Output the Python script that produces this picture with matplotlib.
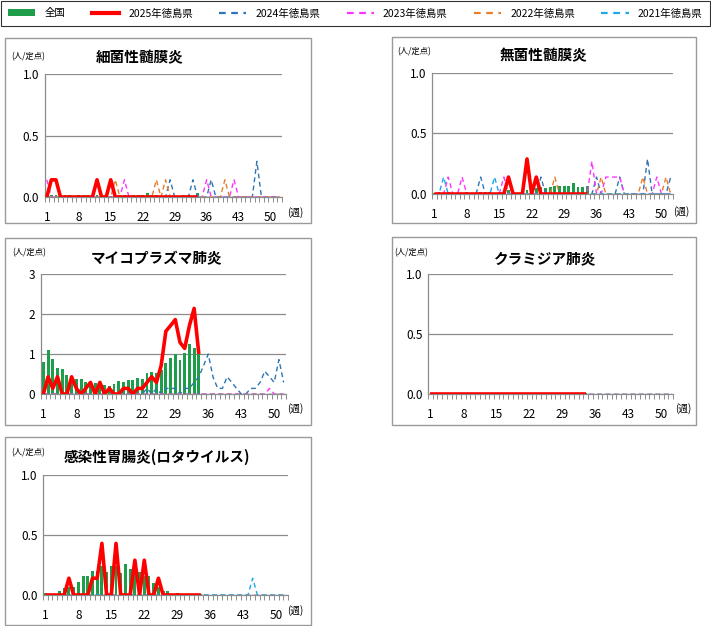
import matplotlib
matplotlib.use('Agg')
import matplotlib.pyplot as plt
from matplotlib.patches import Rectangle, Patch
from matplotlib.lines import Line2D
import numpy as np

plt.rcParams['font.family'] = ['Noto Sans CJK JP', 'DejaVu Sans']

# ---------------- data ----------------
weeks = list(range(1, 53))
weeks_2025 = list(range(1, 35))
week_tick_labels = [1, 8, 15, 22, 29, 36, 43, 50]
series_names = ['全国', '2025年徳島県', '2024年徳島県', '2023年徳島県', '2022年徳島県', '2021年徳島県']
panel_titles = ['細菌性髄膜炎', '無菌性髄膜炎', 'マイコプラズマ肺炎', 'クラミジア肺炎', '感染性胃腸炎(ロタウイルス)']
unit_label = '(人/定点)'
week_label = '(週)'

# 細菌性髄膜炎
bac_national = [0.01, 0.02, 0.02, 0.01, 0.02, 0.02, 0.01, 0.02, 0.02, 0.02, 0.01, 0.02, 0.01, 0.01, 0.01, 0.01, 0.02,
                0.02, 0.02, 0.02, 0.02, 0.02, 0.03, 0.02, 0.02, 0.01, 0.01, 0.01, 0.01, 0.01, 0.02, 0.02, 0.01, 0.03]
bac_2025 = [0, 0.14, 0.14, 0, 0, 0, 0, 0, 0, 0, 0, 0.14, 0, 0, 0.14, 0, 0,
            0, 0, 0, 0, 0, 0, 0, 0, 0, 0, 0, 0, 0, 0, 0, 0, 0]
bac_2024 = [0, 0, 0, 0, 0, 0, 0, 0, 0, 0, 0, 0, 0,
            0, 0, 0, 0, 0, 0, 0, 0, 0, 0, 0, 0, 0,
            0, 0.14, 0, 0, 0, 0, 0.14, 0, 0, 0, 0.14, 0, 0,
            0, 0, 0, 0, 0, 0, 0, 0.29, 0, 0, 0, 0, 0]
bac_2023 = [0.14, 0, 0, 0, 0, 0, 0, 0, 0, 0, 0, 0, 0,
            0, 0, 0, 0, 0.14, 0, 0, 0, 0, 0, 0, 0, 0,
            0, 0, 0, 0, 0, 0, 0, 0, 0, 0.14, 0, 0, 0,
            0, 0, 0.14, 0, 0, 0, 0, 0, 0, 0, 0, 0, 0]
bac_2022 = [0, 0, 0, 0, 0, 0, 0, 0, 0, 0, 0, 0, 0,
            0, 0, 0.14, 0, 0, 0, 0, 0, 0, 0, 0, 0.14, 0,
            0.14, 0, 0, 0, 0, 0, 0, 0, 0, 0, 0, 0, 0,
            0.14, 0, 0, 0, 0, 0, 0, 0, 0, 0, 0, 0, 0]
bac_2021 = [0] * 52

# 無菌性髄膜炎
ase_national = [0.01, 0.02, 0.01, 0.02, 0.01, 0.01, 0.01, 0.02, 0.01, 0.01, 0.02, 0.02, 0.02, 0.01, 0.02, 0.02, 0.03,
                0.02, 0.01, 0.02, 0.03, 0.04, 0.05, 0.06, 0.05, 0.06, 0.07, 0.07, 0.065, 0.07, 0.09, 0.055, 0.06, 0.07]
ase_2025 = [0, 0, 0, 0, 0, 0, 0, 0, 0, 0, 0, 0, 0, 0, 0, 0, 0.14,
            0, 0, 0, 0.29, 0, 0.14, 0, 0, 0, 0, 0, 0, 0, 0, 0, 0, 0]
ase_2024 = [0, 0, 0, 0, 0, 0, 0, 0, 0, 0, 0.14, 0, 0,
            0, 0, 0, 0, 0, 0, 0, 0, 0, 0, 0.14, 0, 0,
            0, 0, 0, 0, 0, 0, 0, 0, 0, 0.14, 0, 0, 0,
            0, 0.14, 0, 0, 0, 0, 0, 0.29, 0, 0, 0, 0, 0.14]
ase_2023 = [0, 0, 0, 0.14, 0, 0, 0.14, 0, 0, 0, 0, 0, 0,
            0, 0, 0.14, 0, 0, 0, 0, 0, 0, 0, 0, 0, 0,
            0, 0, 0, 0, 0, 0, 0, 0, 0.27, 0, 0, 0.14, 0.14,
            0.14, 0.14, 0, 0, 0, 0, 0, 0, 0, 0.14, 0, 0, 0]
ase_2022 = [0, 0, 0, 0, 0, 0, 0, 0, 0, 0, 0, 0, 0,
            0, 0, 0, 0, 0, 0, 0, 0, 0, 0, 0, 0, 0,
            0.14, 0, 0, 0, 0, 0, 0, 0, 0, 0, 0.14, 0, 0,
            0, 0, 0, 0, 0, 0, 0.14, 0, 0, 0, 0, 0.14, 0]
ase_2021 = [0, 0, 0.14, 0, 0, 0, 0, 0, 0, 0, 0, 0, 0,
            0.14, 0, 0, 0, 0, 0, 0, 0, 0, 0, 0, 0, 0,
            0, 0, 0, 0, 0, 0, 0, 0, 0, 0, 0, 0, 0,
            0, 0, 0, 0, 0, 0, 0, 0, 0, 0, 0, 0, 0]

# マイコプラズマ肺炎
myco_national = [0.81, 1.11, 0.87, 0.64, 0.62, 0.47, 0.45, 0.37, 0.37, 0.30, 0.28, 0.27, 0.29, 0.23, 0.21, 0.26, 0.33,
                 0.31, 0.34, 0.35, 0.39, 0.37, 0.52, 0.55, 0.53, 0.60, 0.77, 0.91, 1.00, 0.84, 1.02, 1.24, 1.16, 1.00]
myco_2025 = [0, 0.43, 0.14, 0.43, 0, 0, 0.43, 0.14, 0, 0.14, 0.29, 0, 0.29, 0, 0.14, 0, 0,
             0.14, 0.14, 0, 0.14, 0.14, 0.29, 0.43, 0.29, 0.71, 1.57, 1.71, 1.86, 1.29, 1.14, 1.71, 2.14, 1.0]
myco_2024 = [0, 0, 0, 0, 0, 0, 0, 0, 0, 0, 0, 0, 0,
             0, 0, 0, 0, 0, 0, 0, 0, 0, 0.14, 0, 0.14, 0,
             0.14, 0.14, 0.14, 0, 0.14, 0.14, 0.29, 0.43, 0.71, 1.0, 0.43, 0.14, 0.14,
             0.43, 0.29, 0.14, 0, 0, 0.14, 0.14, 0.29, 0.57, 0.43, 0.29, 0.86, 0.29]
myco_2023 = [0, 0, 0, 0, 0, 0, 0, 0, 0, 0, 0, 0, 0,
             0, 0, 0, 0, 0, 0, 0, 0, 0, 0, 0, 0, 0,
             0, 0, 0, 0, 0, 0, 0, 0, 0, 0, 0, 0, 0,
             0, 0, 0, 0, 0, 0, 0, 0, 0, 0.14, 0, 0, 0]
myco_2022 = [0] * 52
myco_2021 = [0] * 52

# クラミジア肺炎
chl_national = [0, 0, 0.01, 0, 0, 0, 0, 0.01, 0, 0, 0, 0.01, 0, 0, 0, 0.01, 0,
                0, 0, 0.01, 0.01, 0, 0, 0, 0, 0.01, 0.01, 0.01, 0.01, 0, 0, 0, 0, 0.01]
chl_2025 = [0] * 34
chl_2024 = [0] * 52
chl_2023 = [0] * 52
chl_2022 = [0] * 52
chl_2021 = [0] * 52

# 感染性胃腸炎(ロタウイルス)
rota_national = [0.015, 0.005, 0.01, 0.03, 0.06, 0.07, 0.07, 0.11, 0.155, 0.155, 0.2, 0.2, 0.24, 0.19, 0.245, 0.24, 0.18,
                 0.255, 0.22, 0.2, 0.19, 0.16, 0.155, 0.1, 0.07, 0.03, 0.03, 0.01, 0.015, 0.01, 0.01, 0.005, 0.005, 0.005]
rota_2025 = [0, 0, 0, 0, 0, 0.14, 0, 0, 0, 0, 0.14, 0.14, 0.43, 0, 0, 0.43, 0,
             0, 0, 0.29, 0, 0.29, 0, 0, 0.14, 0, 0, 0, 0, 0, 0, 0, 0, 0]
rota_2024 = [0] * 52
rota_2023 = [0] * 52
rota_2022 = [0] * 52
rota_2021 = [0, 0, 0, 0, 0, 0, 0, 0, 0, 0, 0, 0, 0,
             0, 0, 0, 0, 0, 0, 0, 0, 0, 0, 0, 0, 0,
             0, 0, 0, 0, 0, 0, 0, 0, 0, 0, 0, 0, 0,
             0, 0, 0, 0, 0, 0.14, 0, 0, 0, 0, 0, 0, 0]

# ---------------- style ----------------
C_NAT = '#1E9E4A'
C_2025 = '#FF0000'
C_2024 = '#2F75B5'
C_2023 = '#FF33FF'
C_2022 = '#E87D2A'
C_2021 = '#1CA9E6'
GRID = '#8C8C8C'

W, H = 711, 626
fig = plt.figure(figsize=(W / 100, H / 100), dpi=100)
fig.patch.set_facecolor('white')


def fx(x):
    return x / W


def fy(y):
    return 1 - y / H


def add_axes_px(left, right, top, bottom):
    return fig.add_axes([fx(left), fy(bottom), fx(right - left), (bottom - top) / H])


panels = [
    dict(frame=(5, 38, 311, 223), ax=(44.5, 282, 74, 197), title=(140, 57), unit=(11, 57), wk=(287, 213),
         ymax=1.0, yt=[0, 0.5, 1.0], yl=['0.0', '0.5', '1.0'],
         nat=bac_national, y25=bac_2025, others=[bac_2024, bac_2023, bac_2022, bac_2021]),
    dict(frame=(392, 37, 696, 223), ax=(432, 673, 73, 194), title=(543, 55), unit=(397, 52), wk=(673, 212),
         ymax=1.0, yt=[0, 0.5, 1.0], yl=['0.0', '0.5', '1.0'],
         nat=ase_national, y25=ase_2025, others=[ase_2024, ase_2023, ase_2022, ase_2021]),
    dict(frame=(5, 238, 311, 425), ax=(41, 286, 274, 394), title=(157, 258), unit=(12, 253), wk=(287, 409),
         ymax=3.0, yt=[0, 1, 2, 3], yl=['0', '1', '2', '3'],
         nat=myco_national, y25=myco_2025, others=[myco_2024, myco_2023, myco_2022, myco_2021]),
    dict(frame=(392, 237, 696, 425), ax=(428, 673, 274, 394), title=(545, 258), unit=(394, 253), wk=(675, 409),
         ymax=1.0, yt=[0, 0.5, 1.0], yl=['0.0', '0.5', '1.0'],
         nat=chl_national, y25=chl_2025, others=[chl_2024, chl_2023, chl_2022, chl_2021]),
    dict(frame=(5, 437, 311, 625), ax=(43, 288, 475, 595), title=(157, 457), unit=(11, 453), wk=(287, 611),
         ymax=1.0, yt=[0, 0.5, 1.0], yl=['0.0', '0.5', '1.0'],
         nat=rota_national, y25=rota_2025, others=[rota_2024, rota_2023, rota_2022, rota_2021]),
]

other_colors = [C_2024, C_2023, C_2022, C_2021]

for p, title in zip(panels, panel_titles):
    x0, y0, x1, y1 = p['frame']
    fig.patches.append(Rectangle((fx(x0), fy(y1)), fx(x1 - x0), (y1 - y0) / H, transform=fig.transFigure,
                                 fill=False, edgecolor='#9A9A9A', linewidth=1.0, zorder=0))
    ax = add_axes_px(*p['ax'])
    ax.set_facecolor('none')
    ax.bar(weeks_2025, p['nat'], width=0.62, color=C_NAT, zorder=1.2, linewidth=0)
    for vals, c in zip(p['others'], other_colors):
        ax.plot(weeks, vals, color=c, linewidth=1.0, dashes=(3.5, 2.5), zorder=1.5)
    ax.plot(weeks_2025, p['y25'], color=C_2025, linewidth=2.6, zorder=3,
            solid_joinstyle='round', solid_capstyle='butt')
    ax.set_xlim(0.5, 52.5)
    ax.set_ylim(0, p['ymax'])
    ax.set_yticks(p['yt'])
    ax.set_yticklabels(p['yl'])
    ax.yaxis.grid(True, color=GRID, linewidth=0.9)
    ax.set_axisbelow(True)
    for s in ['top', 'right']:
        ax.spines[s].set_visible(False)
    for s in ['left', 'bottom']:
        ax.spines[s].set_color(GRID)
        ax.spines[s].set_linewidth(0.9)
    ax.set_xticks(week_tick_labels)
    ax.set_xticklabels([str(v) for v in week_tick_labels])
    ax.set_xticks(np.arange(0.5, 53, 1), minor=True)
    ax.tick_params(axis='x', which='major', length=0, pad=10, labelsize=8.5)
    ax.tick_params(axis='x', which='minor', length=3.5, width=0.7, color=GRID, direction='out')
    ax.tick_params(axis='y', length=0, pad=4, labelsize=8.5)
    fig.text(fx(p['title'][0]), fy(p['title'][1]), title, ha='center', va='center',
             fontsize=10.5, fontweight='bold')
    fig.text(fx(p['unit'][0]), fy(p['unit'][1]), unit_label, ha='left', va='center', fontsize=6)
    fig.text(fx(p['wk'][0]), fy(p['wk'][1]), week_label, ha='left', va='center', fontsize=7)

handles = [Patch(facecolor=C_NAT, edgecolor='none'),
           Line2D([], [], color=C_2025, linewidth=3),
           Line2D([], [], color=C_2024, linewidth=1.6, dashes=(3, 2.5)),
           Line2D([], [], color=C_2023, linewidth=1.6, dashes=(3, 2.5)),
           Line2D([], [], color=C_2022, linewidth=1.6, dashes=(3, 2.5)),
           Line2D([], [], color=C_2021, linewidth=1.6, dashes=(3, 2.5))]
leg = fig.legend(handles, series_names, loc='upper left', bbox_to_anchor=(0.0015, 0.9985, 0.997, 0.0385),
                 mode='expand', ncol=6, frameon=True, fancybox=False, fontsize=7.5, handlelength=2.6,
                 handleheight=0.6, borderaxespad=0, borderpad=0.7, handletextpad=0.9)
leg.set_bbox_to_anchor((0.0015, 0.961, 0.997, 0.0375), transform=fig.transFigure)
leg.get_frame().set_edgecolor('black')
leg.get_frame().set_linewidth(0.8)

fig.savefig('out.png', dpi=100, facecolor='white')
